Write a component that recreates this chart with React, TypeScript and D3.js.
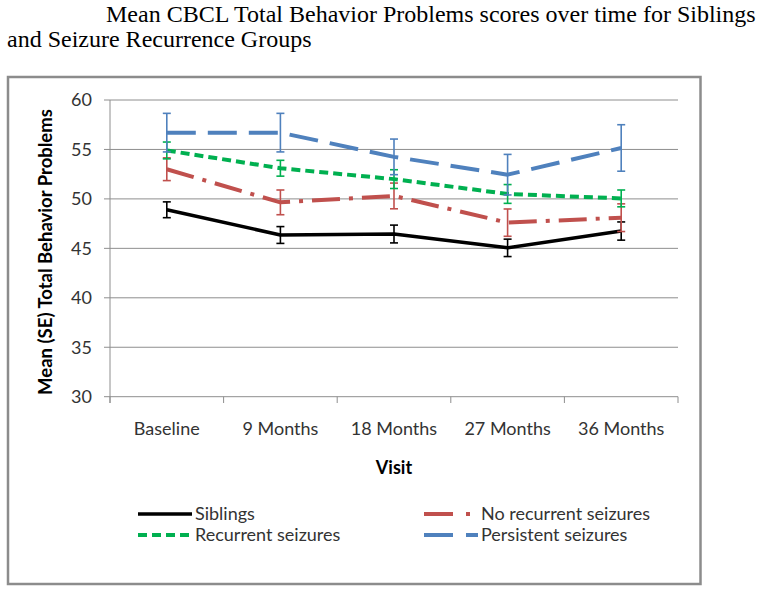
import React from "react";
import * as d3 from "d3";

const visits = ["Baseline", "9 Months", "18 Months", "27 Months", "36 Months"];
const yTicks = [30, 35, 40, 45, 50, 55, 60];

const siblingsMean = [48.9, 46.35, 46.45, 45.05, 46.75];
const siblingsSE = [0.8, 0.85, 0.9, 0.88, 0.92];
const noRecurrentMean = [53.0, 49.65, 50.3, 47.6, 48.1];
const noRecurrentSE = [1.15, 1.25, 1.3, 1.38, 1.4];
const recurrentMean = [54.9, 53.1, 52.0, 50.5, 50.05];
const recurrentSE = [0.85, 0.8, 0.95, 0.95, 0.85];
const persistentMean = [56.7, 56.7, 54.25, 52.45, 55.15];
const persistentSE = [1.95, 1.95, 1.8, 2.05, 2.35];

const seriesNames = ["Siblings", "No recurrent seizures", "Recurrent seizures", "Persistent seizures"];

const series = [
  { name: seriesNames[0], mean: siblingsMean, se: siblingsSE, color: "#000000", dash: "none", legendDash: "none", width: 3.5 },
  { name: seriesNames[1], mean: noRecurrentMean, se: noRecurrentSE, color: "#C0504D", dash: "28 9 4 9", legendDash: "29 13 4 20", width: 4 },
  { name: seriesNames[2], mean: recurrentMean, se: recurrentSE, color: "#00B050", dash: "9 5", legendDash: "9 5", width: 4 },
  { name: seriesNames[3], mean: persistentMean, se: persistentSE, color: "#4F81BD", dash: "29 12", legendDash: "29 13 12 0", width: 4 },
];

const FONT = "Lato, 'Open Sans', sans-serif";

export default function App() {
  const x = d3.scaleBand<string>().domain(visits).range([110, 678]);
  const y = d3.scaleLinear().domain([30, 60]).range([396.7, 100]);
  const cx = (v: string) => (x(v) as number) + x.bandwidth() / 2;
  const line = d3
    .line<number>()
    .x((_, i) => cx(visits[i]))
    .y((d) => y(d));
  const boundaries = visits.map((v) => x(v) as number).concat([678]);

  const legendPos = [
    { lx: 138, ly: 514 },
    { lx: 424, ly: 514 },
    { lx: 138, ly: 535 },
    { lx: 424, ly: 535 },
  ];

  return (
    <svg
      width={762}
      height={590}
      style={{ position: "absolute", left: 0, top: 0, background: "#fff" }}
    >
      <text x={106} y={22} fontFamily="'Liberation Serif', 'Times New Roman', serif" fontSize={24} fill="#000">
        Mean CBCL Total Behavior Problems scores over time for Siblings
      </text>
      <text x={7} y={47} fontFamily="'Liberation Serif', 'Times New Roman', serif" fontSize={24} fill="#000">
        and Seizure Recurrence Groups
      </text>

      <rect x={8} y={77} width={692.5} height={507} fill="#fff" stroke="#8c8c8c" strokeWidth={2.5} />

      {yTicks.map((t) => (
        <g key={t}>
          <line x1={104} x2={678} y1={y(t)} y2={y(t)} stroke="#8e8e8e" strokeWidth={1} />
          <text x={92} y={y(t)} dy="0.35em" textAnchor="end" fontFamily={FONT} fontSize={18} fill="#333">
            {t}
          </text>
        </g>
      ))}
      <line x1={110} x2={110} y1={100} y2={403} stroke="#8e8e8e" strokeWidth={1} />
      {boundaries.map((b, i) => (
        <line key={i} x1={b} x2={b} y1={y(30)} y2={403} stroke="#8e8e8e" strokeWidth={1} />
      ))}
      {visits.map((v) => (
        <text key={v} x={cx(v)} y={435} textAnchor="middle" fontFamily={FONT} fontSize={18} fill="#333">
          {v}
        </text>
      ))}
      <text x={394} y={474} textAnchor="middle" fontFamily={FONT} fontSize={18} fontWeight="bold" fill="#000">
        Visit
      </text>
      <text
        transform="translate(46,252) rotate(-90)"
        textAnchor="middle"
        dy="0.35em"
        fontFamily={FONT}
        fontSize={18.5}
        fontWeight="bold"
        fill="#000"
      >
        Mean (SE) Total Behavior Problems
      </text>

      {series.map((s) => (
        <g key={s.name}>
          <path
            d={line(s.mean) || ""}
            fill="none"
            stroke={s.color}
            strokeWidth={s.width}
            strokeDasharray={s.dash}
            strokeLinejoin="round"
          />
          {s.mean.map((m, i) => {
            const px = cx(visits[i]);
            const top = y(m + s.se[i]);
            const bot = y(m - s.se[i]);
            return (
              <g key={i} stroke={s.color} strokeWidth={1.6}>
                <line x1={px} x2={px} y1={top} y2={bot} />
                <line x1={px - 4} x2={px + 4} y1={top} y2={top} />
                <line x1={px - 4} x2={px + 4} y1={bot} y2={bot} />
              </g>
            );
          })}
        </g>
      ))}

      {series.map((s, i) => {
        const p = legendPos[i];
        return (
          <g key={s.name}>
            <line
              x1={p.lx}
              x2={p.lx + 54}
              y1={p.ly}
              y2={p.ly}
              stroke={s.color}
              strokeWidth={s.width}
              strokeDasharray={s.legendDash}
            />
            <text x={p.lx + 57} y={p.ly} dy="0.35em" fontFamily={FONT} fontSize={18} fill="#333">
              {s.name}
            </text>
          </g>
        );
      })}
    </svg>
  );
}
